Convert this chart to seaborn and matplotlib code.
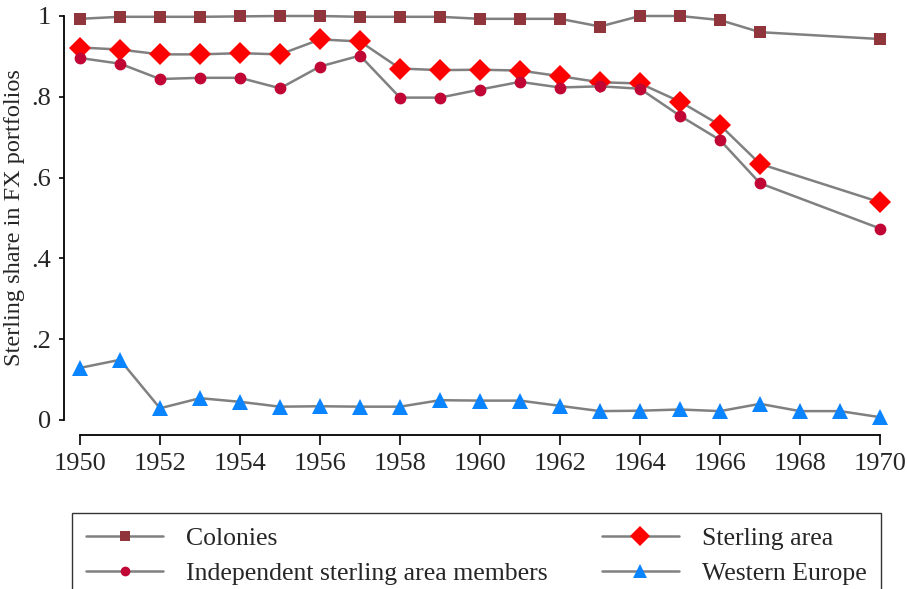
import numpy as np
import pandas as pd
import matplotlib
matplotlib.use('Agg')
import matplotlib.pyplot as plt
import seaborn as sns
from matplotlib.lines import Line2D

# values
years = list(range(1950, 1971))

colonies = [0.993, 0.998, 0.998, 0.998, 0.999, 1.000, 1.000, 0.998, 0.998, 0.998,
            0.993, 0.993, 0.993, 0.974, 1.000, 1.000, 0.990, 0.960, np.nan, np.nan, 0.943]
sterling_area = [0.922, 0.917, 0.905, 0.905, 0.908, 0.905, 0.942, 0.937, 0.870, 0.866,
                 0.867, 0.865, 0.851, 0.836, 0.833, 0.788, 0.730, 0.634, np.nan, np.nan, 0.539]
independent = [0.896, 0.882, 0.844, 0.847, 0.847, 0.821, 0.875, 0.902, 0.798, 0.798,
               0.818, 0.837, 0.823, 0.826, 0.820, 0.753, 0.693, 0.586, np.nan, np.nan, 0.474]
western_europe = [0.129, 0.149, 0.029, 0.054, 0.045, 0.033, 0.034, 0.033, 0.033, 0.049,
                  0.048, 0.048, 0.035, 0.022, 0.023, 0.026, 0.022, 0.040, 0.022, 0.022, 0.007]

series_names = ["Colonies", "Sterling area", "Independent sterling area members", "Western Europe"]
x_ticks = list(range(1950, 1971, 2))
y_ticks = [0, 0.2, 0.4, 0.6, 0.8, 1.0]
y_tick_labels = ["0", ".2", ".4", ".6", ".8", "1"]

df = pd.DataFrame({
    "year": years * 4,
    "share": colonies + sterling_area + independent + western_europe,
    "group": sum([[n] * len(years) for n in series_names], []),
})

styles = {
    "Colonies": dict(marker="s", color="#90353b", ms=8.5, lms=7),
    "Sterling area": dict(marker="D", color="#ff0000", ms=11, lms=10),
    "Independent sterling area members": dict(marker="o", color="#c10534", ms=8.5, lms=7),
    "Western Europe": dict(marker="^", color="#0a84ff", ms=12, lms=10),
}
line_col = "#808080"

sns.set_style("white")
plt.rcParams['font.family'] = ['Liberation Serif', 'DejaVu Serif']

fig = plt.figure(figsize=(9.07, 5.89), dpi=100)
ax = fig.add_axes([80 / 907, 1 - 420 / 589, 800 / 907, 404 / 589])

for name in series_names:
    st = styles[name]
    sns.lineplot(data=df[df.group == name], x="year", y="share", ax=ax,
                 color=line_col, linewidth=1.8, marker=st["marker"], markersize=st["ms"],
                 markerfacecolor=st["color"], markeredgecolor=st["color"],
                 markeredgewidth=0, legend=False, errorbar=None)

ax.set_xlim(1950, 1970)
ax.set_ylim(0, 1)
ax.set_xticks(x_ticks)
ax.set_yticks(y_ticks)
ax.set_yticklabels(y_tick_labels)
ax.tick_params(axis='x', bottom=True, labelsize=19, length=7, width=1.2, color='black',
               direction='out', pad=6)
ax.tick_params(axis='y', left=True, labelsize=19, length=3.6, width=1.2, color='black',
               direction='out', pad=6)
ax.set_xlabel("")
ax.set_ylabel("Sterling share in FX portfolios", fontsize=17.5, labelpad=4)
for sp in ["left", "bottom"]:
    ax.spines[sp].set_color("black")
    ax.spines[sp].set_linewidth(1.3)
sns.despine(ax=ax, offset={"left": 11.5, "bottom": 10.8}, trim=True)
for c in ax.get_children():
    if isinstance(c, Line2D):
        c.set_clip_on(False)

order = ["Colonies", "Independent sterling area members", "Sterling area", "Western Europe"]
handles = [Line2D([], [], color=line_col, linewidth=1.8, marker=styles[n]["marker"],
                  markersize=styles[n]["lms"], markerfacecolor=styles[n]["color"],
                  markeredgewidth=0) for n in order]
leg = fig.legend(handles, order, loc="upper left", bbox_to_anchor=(72 / 907, 1 - 513 / 589),
                 ncol=2, frameon=True, fancybox=False, fontsize=18.5, handlelength=3.0,
                 columnspacing=2.1, borderpad=0.55, labelspacing=0.45, handletextpad=0.9,
                 borderaxespad=0)
leg.get_frame().set_edgecolor("black")
leg.get_frame().set_linewidth(1.0)

fig.savefig("out.png", dpi=100)
